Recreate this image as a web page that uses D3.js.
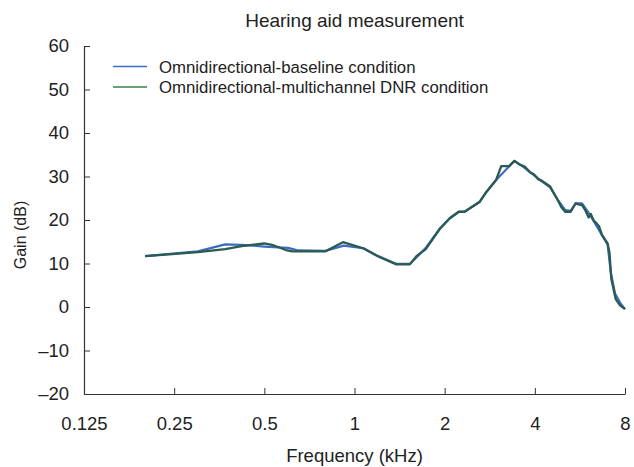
<!DOCTYPE html>
<html>
<head>
<meta charset="utf-8">
<script src="https://cdn.jsdelivr.net/npm/d3@7"></script>
<style>
  body { margin: 0; background: #fff; }
  text { font-family: "Liberation Sans", Arial, sans-serif; fill: #222; }
</style>
</head>
<body>
<div id="chart"></div>
<script>
// Frequency (kHz) ticks and gain ticks
const xTicks = [0.125, 0.25, 0.5, 1, 2, 4, 8];
const yTicks = [-20, -10, 0, 10, 20, 30, 40, 50, 60];

// Omnidirectional-baseline condition
const baseFreq = [0.2, 0.3, 0.37, 0.42, 0.5, 0.6, 0.65, 0.8, 0.92, 1.07, 1.2, 1.38, 1.53, 1.61, 1.73, 1.93, 2.08, 2.23, 2.33, 2.62, 2.76, 2.97, 3.42, 3.7, 3.97, 4.23, 4.5, 4.77, 5.05, 5.27, 5.47, 5.75, 6.1, 6.56, 7.0, 7.17, 7.41, 7.7, 8.0];
const baseGain = [11.7, 12.8, 14.4, 14.3, 13.9, 13.6, 13.0, 12.9, 14.1, 13.5, 11.7, 9.9, 9.9, 11.4, 13.6, 18.1, 20.4, 21.9, 21.9, 24.2, 26.5, 29.2, 33.6, 32.0, 30.3, 28.8, 27.5, 24.6, 22.3, 22.1, 23.8, 23.8, 21.3, 17.6, 14.3, 8.0, 3.1, 1.0, -0.5];

// Omnidirectional-multichannel DNR condition
const dnrFreq = [0.2, 0.3, 0.37, 0.42, 0.5, 0.53, 0.59, 0.62, 0.8, 0.915, 1.07, 1.2, 1.38, 1.53, 1.61, 1.73, 1.93, 2.08, 2.23, 2.33, 2.62, 2.76, 2.97, 3.09, 3.28, 3.42, 3.55, 3.7, 3.85, 3.97, 4.1, 4.23, 4.5, 4.77, 4.9, 5.05, 5.27, 5.47, 5.6, 5.75, 5.9, 6.05, 6.15, 6.3, 6.4, 6.56, 6.7, 6.85, 7.0, 7.1, 7.2, 7.45, 7.7, 8.0];
const dnrGain = [11.7, 12.6, 13.3, 14.0, 14.6, 14.3, 13.1, 12.8, 12.8, 14.9, 13.5, 11.6, 9.8, 9.8, 11.7, 13.3, 18.0, 20.4, 21.9, 21.9, 24.2, 26.5, 29.2, 32.4, 32.4, 33.6, 32.8, 32.3, 31.0, 30.5, 29.4, 29.0, 27.7, 24.6, 23.0, 21.9, 21.9, 23.8, 23.6, 23.4, 22.2, 20.6, 21.4, 19.8, 19.4, 18.5, 16.6, 15.6, 14.6, 12.5, 6.5, 1.8, 0.4, -0.5];

const seriesNames = ["Omnidirectional-baseline condition", "Omnidirectional-multichannel DNR condition"];
const seriesColors = ["#3b6cc0", "#2a5a50"];

const width = 634, height = 467;
const margin = { top: 46, right: 9, bottom: 73, left: 84 };

const svg = d3.select("#chart").append("svg")
  .attr("width", width)
  .attr("height", height);

const x = d3.scaleLog().base(2)
  .domain([0.125, 8])
  .range([margin.left, width - margin.right]);

const y = d3.scaleLinear()
  .domain([-20, 60])
  .range([height - margin.bottom, margin.top]);

// Axes: ticks point inward
const xAxis = svg.append("g")
  .attr("transform", "translate(0," + y(-20) + ")")
  .call(d3.axisBottom(x).tickValues(xTicks).tickSizeInner(-6).tickSizeOuter(0).tickPadding(18)
    .tickFormat(d => String(d)));

const yAxis = svg.append("g")
  .attr("transform", "translate(" + x(0.125) + ",0)")
  .call(d3.axisLeft(y).tickValues(yTicks).tickSizeInner(-6).tickSizeOuter(0).tickPadding(15)
    .tickFormat(d => d < 0 ? "\u2013" + Math.abs(d) : String(d)));

[xAxis, yAxis].forEach(function (g) {
  g.select(".domain").attr("stroke", "#333").attr("stroke-width", 1.2);
  g.selectAll(".tick line").attr("stroke", "#333").attr("stroke-width", 1);
  g.selectAll(".tick text").style("font-size", "18.5px").attr("fill", "#222");
});
xAxis.selectAll(".tick text").attr("dy", "0.95em");

// Lines
const line = d3.line()
  .x(d => x(d[0]))
  .y(d => y(d[1]));

const baseData = baseFreq.map((f, i) => [f, baseGain[i]]);
const dnrData = dnrFreq.map((f, i) => [f, dnrGain[i]]);

svg.append("path")
  .datum(baseData)
  .attr("fill", "none")
  .attr("stroke", seriesColors[0])
  .attr("stroke-width", 2.2)
  .attr("stroke-linejoin", "round")
  .attr("d", line);

svg.append("path")
  .datum(dnrData)
  .attr("fill", "none")
  .attr("stroke", seriesColors[1])
  .attr("stroke-width", 2.3)
  .attr("stroke-linejoin", "round")
  .attr("d", line);

// Title
svg.append("text")
  .attr("x", (x(0.125) + x(8)) / 2)
  .attr("y", 27)
  .attr("text-anchor", "middle")
  .style("font-size", "19px")
  .text("Hearing aid measurement");

// Axis titles
svg.append("text")
  .attr("x", (x(0.125) + x(8)) / 2)
  .attr("y", 462)
  .attr("text-anchor", "middle")
  .style("font-size", "18.5px")
  .text("Frequency (kHz)");

svg.append("text")
  .attr("transform", "translate(26," + 235 + ") rotate(-90)")
  .attr("text-anchor", "middle")
  .style("font-size", "16px")
  .text("Gain (dB)");

// Legend
const legend = svg.append("g");
seriesNames.forEach(function (name, i) {
  const ly = 66.5 + i * 20.5;
  legend.append("line")
    .attr("x1", 113).attr("x2", 147)
    .attr("y1", ly).attr("y2", ly)
    .attr("stroke", i === 0 ? "#3b6cc0" : "#3a8048")
    .attr("stroke-width", 1.3);
  legend.append("text")
    .attr("x", 159)
    .attr("y", ly + 6)
    .style("font-size", "16.8px")
    .text(name);
});
</script>
</body>
</html>
